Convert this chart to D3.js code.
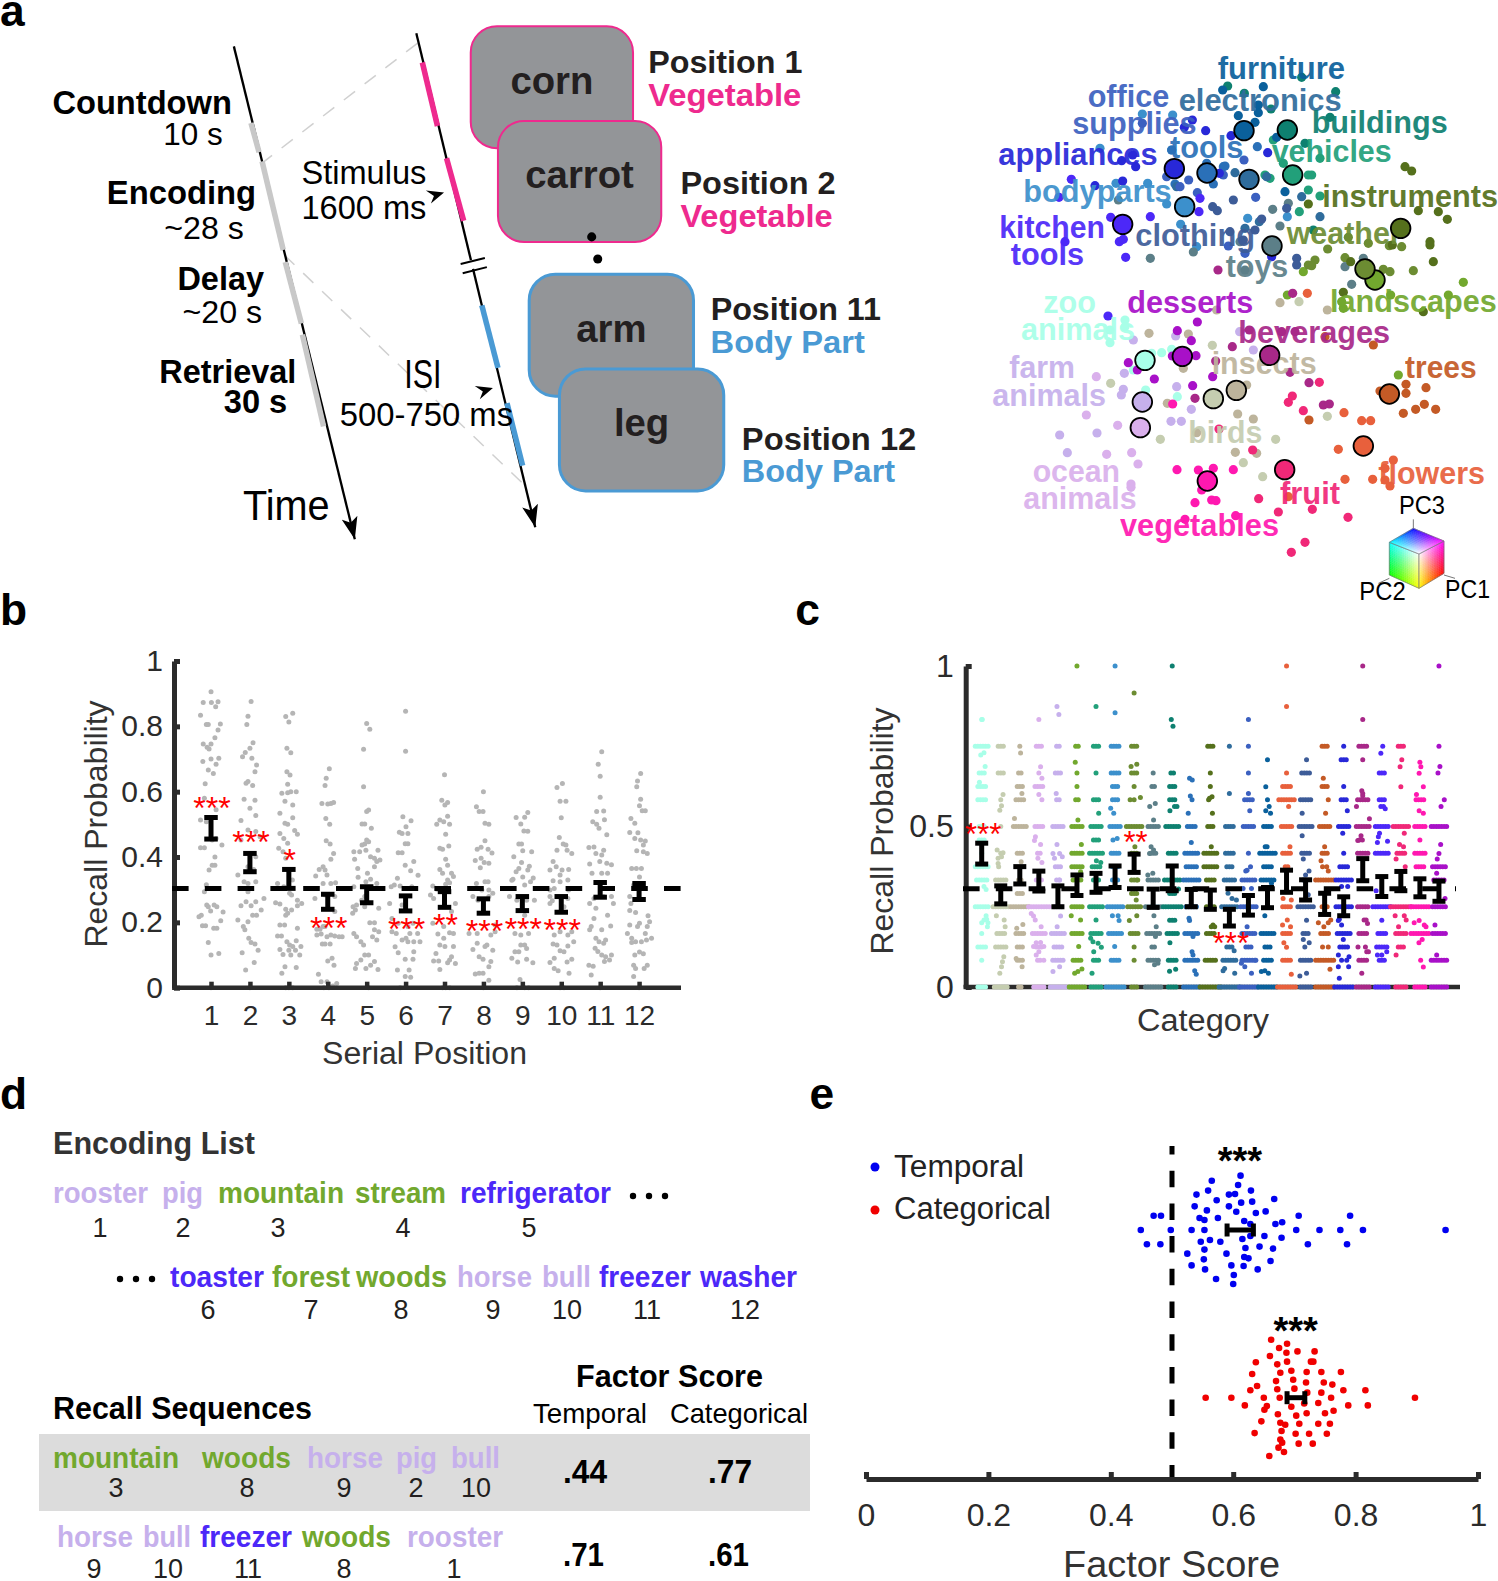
<!DOCTYPE html>
<html lang="en">
<head>
<meta charset="utf-8">
<title>Recall figure</title>
<script src="https://d3js.org/d3.v7.min.js"></script>
<style>
  html, body { margin: 0; padding: 0; background: #fff; }
  svg { display: block; font-family: "Liberation Sans", Arial, sans-serif; }
</style>
</head>
<body>
<script>
// ---- categories (panel c order, left to right)
var catNames = ["zoo animals","birds","insects","ocean animals","farm animals","landscapes","vehicles","body parts","weather","toys","buildings","tools","instruments","electronics","office supplies","furniture","flowers","clothing","trees","appliances","beverages","kitchen tools","fruit","vegetables","desserts"];
var catColors = ["#a8ffe8","#c5cdb0","#bdb49c","#dab0ec","#c6b0ec","#72a82e","#22a07a","#3c90cc","#6c8c32","#5c7f88","#0e8070","#2a70b8","#55701c","#2f6c9c","#3b60c0","#0a609c","#e8603c","#3d5c98","#c45a26","#2828d8","#a82888","#4c28f8","#f02878","#ff18b0","#a810c8"];

// ---- panel a embedding, PC scores in plot units, one list per category
var embedCentroids = [[495,961],[700,1076],[769,1051],[481,1163],[487,1086],[1185,720],[938,405],[614,500],[1155,687],[876,618],[922,270],[681,399],[1262,565],[807,418],[0,0],[792,272],[1150,1218],[0,0],[1228,1062],[583,386],[869,946],[428,553],[914,1289],[682,1323],[607,949]];
var embedDots = [
  [[435,840],[435,860],[390,870],[390,908],[545,938],[575,928],[515,940],[460,990],[497,1050],[592,1070]],
  [[957,785],[697,916],[392,1030],[1042,1129],[541,1198],[887,1198],[790,1268],[848,1310]],
  [[507,880],[625,882],[610,985],[562,1090],[773,1122],[820,1137],[650,1178],[766,1237],[830,1240],[800,1035],[710,810],[900,788],[1042,810]],
  [[349,1010],[319,1125],[413,1156],[380,1243],[455,1238],[474,1272],[453,1332],[453,1342]],
  [[460,900],[587,888],[433,1000],[430,1048],[424,1065],[590,1040],[634,1108],[573,1144],[604,1144],[239,1185],[351,1179],[262,1238],[779,875],[820,930]],
  [[970,695],[1450,727],[922,765],[1232,765],[1405,765],[1090,805],[1085,785],[1255,1005]],
  [[880,300],[985,405],[995,405],[855,405],[870,415],[985,450],[1020,468],[958,515],[910,370],[1020,355]],
  [[487,222],[578,225],[360,325],[575,330],[408,430],[503,430],[560,492],[602,553],[803,535],[922,530],[650,620]],
  [[1043,627],[1105,592],[1165,610],[1228,617],[1265,620],[1095,653],[1005,660],[985,675],[995,677],[1230,695],[1300,692],[1210,688]],
  [[511,655],[640,636],[795,690],[878,508],[900,558],[1095,680],[1115,733],[925,490],[1150,655],[415,480],[780,605]],
  [[743,138],[793,160],[965,112],[1067,155],[873,207],[1050,232],[975,310],[1000,570]],
  [[730,380],[832,320],[700,432],[735,378],[575,330],[585,432],[680,370]],
  [[1275,380],[1295,393],[1315,512],[1375,515],[1402,538],[1350,605],[1350,615],[1360,665],[1237,615],[985,492],[1112,665],[1090,757],[1330,815]],
  [[765,398],[860,410],[965,470],[1020,530],[838,545],[795,565],[590,440]],
  [[626,420],[600,440],[652,458],[730,405],[792,360],[827,472],[487,250],[560,410],[745,618],[795,640]],
  [[728,150],[850,140],[775,227],[825,247],[835,195],[835,218],[915,455],[890,292]],
  [[982,760],[1092,1118],[1145,1142],[1172,1142],[1075,1228],[1240,1260],[1215,1285],[1095,1318],[1178,1318],[1215,1320],[1230,1338],[925,1370]],
  [[760,480],[712,512],[698,500],[845,537],[825,570],[920,505],[750,575],[790,600],[950,655],[950,675]],
  [[1278,1033],[1338,1043],[1278,1060],[1200,1053],[1270,1120],[1307,1108],[1333,1093],[1367,1108],[987,1140],[1180,915],[1035,890]],
  [[677,272],[753,287],[637,240],[613,262],[863,338],[467,380],[425,362],[458,345],[345,437],[428,423],[718,400],[875,650]],
  [[714,690],[938,760],[757,920],[707,963],[930,997],[987,1028],[1030,1095],[1048,1092],[645,1075],[808,870],[905,875],[945,875]],
  [[274,418],[237,472],[392,532],[511,530],[657,515],[660,475],[418,605],[430,598],[255,605],[437,652],[384,828]],
  [[925,1087],[937,1068],[970,1112],[1018,1027],[818,1230],[717,1167],[836,1376],[895,1416],[997,1408],[1104,1432],[975,1507],[934,1537]],
  [[578,1092],[591,1289],[655,1290],[700,1285],[760,1289],[645,1388],[695,1380],[708,1382],[665,1350],[767,1427],[615,1438]],
  [[652,846],[592,872],[634,902],[648,947],[577,948],[445,968],[472,990],[523,1017],[698,1010],[638,1037]]
];
var embedLabels = [["furniture",713,1095,118,15],["office",323,568,200,14],["electronics",596,1085,212,13],["supplies",277,650,283,14],["buildings",995,1403,280,10],["tools",570,790,353,11],["vehicles",875,1235,365,6],["appliances",55,533,375,19],["bodyparts",130,575,487,7],["instruments",1027,1554,502,12],["kitchen",58,375,595,21],["tools",92,312,675,21],["clothing",466,825,617,17],["weather",920,1265,612,8],["toys",737,925,712,9],["zoo",190,348,820,0],["animals",123,465,900,0],["desserts",442,820,820,24],["landscapes",1050,1550,815,5],["beverages",775,1230,910,20],["insects",695,1010,1003,2],["farm",88,285,1015,4],["animals",37,378,1098,4],["trees",1275,1490,1015,18],["birds",625,847,1210,1],["flowers",1195,1515,1332,16],["ocean",158,420,1327,3],["animals",130,470,1407,3],["fruit",900,1080,1392,22],["vegetables",420,897,1488,23]];

// ---- panel b: serial position, each point is [offset from position, recall prob]
var serialPoints = [
  [[0,.906],[-.2,.873],[.01,.873],[.18,.875],[.12,.86],[-.27,.834],[-.12,.806],[-.07,.806],[.24,.807],[.18,.789],[.1,.765],[-.2,.746],[-.1,.736],[-.05,.731],[0,.746],[-.21,.692],[0,.7],[.2,.702],[.13,.684],[-.07,.666],[.06,.656],[-.15,.624],[-.17,.58],[.13,.545],[-.27,.513],[-.12,.508],[.13,.457],[-.27,.428],[-.17,.428],[.03,.452],[.28,.437],[.1,.4],[.03,.375],[.1,.375],[-.05,.36],[-.12,.315],[-.17,.294],[-.11,.253],[-.07,.248],[.08,.253],[.15,.248],[-.01,.235],[.31,.232],[-.25,.222],[-.31,.217],[.25,.205],[-.22,.19],[-.14,.19],[.07,.182],[.15,.182],[-.07,.138],[0,.1],[.2,.105],[0,0]],
  [[.03,.876],[-.05,.831],[-.08,.806],[.08,.75],[0,.733],[-.12,.72],[-.19,.707],[.05,.702],[.17,.682],[.13,.661],[-.05,.631],[-.1,.626],[.07,.619],[.13,.574],[-.15,.577],[0,.549],[.15,.527],[-.23,.512],[-.05,.483],[.15,.478],[.26,.462],[-.23,.452],[.15,.401],[.1,.362],[-.05,.37],[-.31,.345],[-.15,.324],[.15,.324],[-.05,.319],[-.23,.304],[-.05,.294],[.36,.273],[.15,.263],[-.1,.263],[-.23,.251],[.03,.251],[.29,.238],[.17,.222],[.07,.222],[-.31,.207],[-.05,.202],[-.17,.187],[-.13,.177],[-.03,.151],[.03,.138],[.13,.134],[-.2,.107],[.21,.115],[.11,.077],[-.11,.054],[0,0]],
  [[.1,.84],[-.08,.83],[0,.813],[-.05,.733],[.05,.719],[-.05,.661],[.03,.651],[-.03,.623],[-.18,.595],[-.03,.597],[.05,.6],[.19,.6],[-.1,.571],[.1,.559],[.1,.52],[-.23,.534],[-.1,.503],[-.03,.5],[-.23,.472],[.15,.481],[.22,.47],[-.13,.457],[-.03,.442],[-.26,.427],[-.15,.416],[-.08,.396],[.09,.33],[-.29,.319],[-.13,.309],[.22,.268],[.07,.284],[.02,.289],[-.34,.26],[-.23,.256],[.33,.258],[.22,.251],[-.08,.24],[.07,.238],[-.03,.228],[-.08,.222],[-.23,.192],[-.11,.192],[.22,.182],[-.29,.158],[-.19,.158],[.19,.144],[-.05,.141],[.02,.131],[.1,.126],[.31,.126],[-.23,.117],[0,.115],[.17,.115],[-.15,.102],[.05,.1],[.28,.1],[-.1,.064],[.19,.062],[-.18,.044],[0,0],[.1,0],[-.08,0]],
  [[.04,.67],[-.04,.641],[-.07,.619],[-.15,.564],[0,.562],[.08,.564],[.15,.567],[-.05,.518],[.05,.5],[-.04,.45],[.06,.44],[.15,.411],[.08,.393],[-.12,.37],[-.22,.362],[-.07,.36],[-.31,.342],[-.02,.345],[-.12,.319],[.08,.319],[.2,.321],[-.07,.284],[.29,.304],[-.33,.273],[.18,.279],[.18,.233],[-.12,.187],[-.28,.179],[-.2,.179],[-.07,.187],[.08,.161],[.29,.156],[.18,.158],[.37,.156],[-.28,.161],[-.02,.156],[-.14,.134],[-.07,.134],[.06,.134],[-.17,.164],[.11,.09],[0,.082],[.16,.069],[-.24,.041],[-.17,.018],[-.02,.018],[.23,.013],[.13,.005],[-.1,0],[.03,0]],
  [[0,.809],[.08,.791],[-.08,.73],[-.08,.615],[.05,.544],[0,.539],[-.12,.501],[-.05,.501],[.12,.488],[0,.452],[-.05,.44],[-.12,.437],[.05,.447],[-.33,.416],[-.18,.416],[-.02,.421],[.29,.421],[-.31,.393],[.1,.401],[.2,.396],[.34,.391],[.26,.386],[.2,.37],[-.23,.365],[-.22,.338],[.02,.35],[.1,.332],[-.02,.324],[-.33,.309],[.26,.319],[-.05,.279],[-.13,.268],[-.26,.253],[-.35,.248],[-.29,.238],[-.05,.248],[.31,.243],[-.36,.228],[.08,.199],[.2,.199],[.2,.177],[.31,.171],[.15,.156],[.26,.146],[-.33,.166],[-.26,.156],[-.15,.141],[-.08,.131],[-.05,.1],[.05,.1],[-.15,.085],[-.26,.074],[.1,.069],[.2,.08],[-.29,.059],[-.02,.059],[.29,.056],[.05,0]],
  [[0,.846],[0,.724],[-.07,.523],[.14,.511],[.01,.493],[-.16,.476],[-.09,.472],[.06,.472],[-.01,.441],[.06,.441],[-.19,.413],[-.09,.413],[.21,.386],[-.01,.375],[.13,.358],[.32,.344],[-.21,.335],[-.29,.314],[-.37,.309],[-.14,.311],[-.01,.304],[.16,.309],[-.41,.258],[-.09,.253],[-.35,.212],[-.19,.197],[-.35,.171],[-.24,.166],[.06,.187],[.19,.197],[.11,.166],[.31,.166],[-.09,.146],[.06,.141],[.21,.141],[.37,.141],[-.27,.125],[.01,.151],[-.19,.107],[.21,.11],[-.01,.087],[.19,.087],[-.21,.054],[.09,.054],[-.01,.034],[.13,.032],[-.14,0]],
  [[0,.652],[-.07,.574],[.08,.567],[.01,.559],[.08,.525],[-.12,.513],[-.2,.5],[-.02,.508],[.13,.5],[.03,.47],[-.12,.427],[-.05,.424],[.11,.434],[.03,.393],[.08,.375],[-.12,.362],[-.05,.35],[.18,.35],[.08,.33],[.23,.34],[.13,.321],[.03,.317],[-.3,.311],[-.19,.301],[-.36,.284],[-.28,.273],[.28,.258],[.18,.233],[-.3,.197],[-.02,.187],[.13,.168],[.23,.166],[-.17,.164],[-.02,.151],[-.12,.131],[.01,.126],[.23,.126],[-.22,.105],[.18,.095],[.13,.085],[-.28,.082],[-.15,.082],[.08,.076],[.28,.074],[-.12,.056],[-.05,0],[.03,0],[.13,0]],
  [[0,.6],[-.18,.554],[-.11,.539],[-.01,.539],[.04,.503],[.14,.5],[.04,.45],[-.06,.43],[-.16,.424],[.12,.424],[.22,.412],[-.06,.396],[-.21,.389],[.02,.383],[.14,.381],[-.08,.367],[.04,.324],[.12,.324],[-.18,.319],[-.04,.299],[.14,.299],[-.27,.279],[-.14,.268],[.14,.279],[.24,.289],[.3,.192],[.19,.161],[-.37,.166],[-.16,.166],[.3,.171],[.09,.131],[-.16,.136],[.04,.126],[.24,.115],[-.27,.117],[-.11,.095],[-.01,.087],[.19,.08],[.14,.064],[-.21,.042],[-.11,.044],[.14,.023],[0,0],[-.01,.044]],
  [[.14,.536],[.06,.522],[-.16,.521],[-.04,.501],[.04,.48],[.14,.479],[-.09,.44],[-.02,.44],[.01,.419],[.24,.416],[-.22,.401],[-.02,.383],[.18,.372],[.14,.36],[-.09,.365],[-.16,.355],[-.24,.332],[.01,.339],[.28,.336],[-.27,.329],[.21,.324],[.06,.314],[-.33,.279],[-.14,.268],[.11,.268],[.31,.268],[.06,.222],[-.19,.166],[-.04,.161],[.16,.166],[-.04,.131],[.06,.131],[-.19,.11],[.11,.12],[-.09,.11],[-.27,.09],[-.12,.079],[.11,.087],[.27,.076],[-.06,.025],[-.14,0],[.06,0],[.16,0]],
  [[.03,.625],[-.11,.613],[-.03,.571],[.12,.571],[0,.52],[-.05,.46],[.05,.44],[.12,.437],[-.11,.421],[.15,.421],[.27,.411],[-.21,.386],[-.13,.37],[-.29,.36],[.02,.36],[.19,.362],[-.03,.345],[.17,.33],[-.21,.327],[-.03,.324],[-.29,.299],[-.18,.304],[.19,.299],[-.29,.279],[-.23,.266],[-.29,.258],[.17,.273],[.07,.248],[.27,.171],[.17,.161],[-.03,.171],[-.18,.161],[.32,.141],[-.21,.134],[-.11,.131],[.17,.128],[-.03,.113],[.07,.11],[-.18,.09],[.27,.087],[-.29,.077],[.15,.079],[-.18,.059],[-.08,.052],[.2,.044],[.07,0],[-.03,0]],
  [[.04,.722],[-.05,.684],[0,.647],[0,.583],[-.09,.539],[.09,.541],[-.19,.508],[-.09,.5],[.11,.514],[-.03,.488],[.17,.468],[-.29,.429],[-.16,.431],[.09,.421],[-.11,.411],[.04,.406],[-.01,.386],[-.27,.379],[.17,.381],[.29,.376],[-.21,.35],[.04,.35],[.19,.35],[.29,.279],[.09,.279],[-.16,.273],[-.27,.258],[.34,.258],[-.11,.243],[.19,.222],[-.16,.212],[.27,.189],[-.23,.187],[-.27,.177],[.04,.177],[-.11,.151],[.14,.146],[.09,.136],[-.03,.141],[-.13,.121],[-.06,.111],[.04,.1],[.14,.095],[.29,.1],[.11,.08],[.24,.085],[-.29,.069],[-.18,.066],[-.23,.039],[0,0]],
  [[.04,.656],[-.04,.633],[-.06,.615],[.04,.577],[.01,.557],[.08,.542],[.16,.542],[-.21,.518],[-.11,.503],[-.24,.475],[-.03,.474],[-.11,.457],[.04,.452],[.16,.449],[.11,.437],[-.06,.419],[.11,.416],[.21,.411],[-.19,.365],[-.07,.365],[.06,.365],[.01,.339],[-.14,.314],[-.24,.279],[-.21,.258],[-.24,.236],[-.09,.23],[.23,.22],[.01,.197],[.27,.202],[-.24,.192],[-.04,.187],[.21,.187],[-.3,.166],[.16,.166],[-.19,.151],[-.09,.141],[.06,.141],[-.19,.138],[.19,.146],[.32,.151],[.01,.109],[.11,.104],[-.11,.1],[-.14,.069],[.21,.069],[-.09,.059],[.13,.059],[-.14,.034],[0,0]]
];
var serialLow  = [.455,.355,.304,.24,.26,.235,.246,.228,.236,.231,.277,.27];
var serialHigh = [.521,.411,.362,.286,.309,.281,.294,.272,.279,.279,.322,.319];
var serialStars = [[1,"***",.567],[2,"***",.463],[3,"*",.41],[4,"***",.202],[6,"***",.197],[7,"**",.209],[8,"***",.192],[9,"***",.197],[10,"***",.195]];
var chanceLevel = .304;

// ---- panel c: rows are [level in 24ths, how many subjects]; off grid points are [offset, prob]
var catRows = [
  [[20,1],[18,6],[16,3],[15,4],[14,4],[12,3],[11,3],[10,1],[9,6],[8,5],[6,6],[4,1],[3,4],[2,1],[0,4]],
  [[18,3],[16,3],[12,1],[10,1],[8,5],[6,7],[4,4],[3,5],[0,6]],
  [[18,1],[16,2],[15,3],[14,4],[12,6],[10,3],[8,2],[7,3],[6,8],[4,4],[3,3],[2,3],[0,2]],
  [[18,3],[16,1],[15,4],[12,4],[10,2],[8,3],[6,9],[4,6],[3,3],[2,2],[0,5]],
  [[18,2],[16,3],[14,2],[12,5],[9,3],[8,2],[6,4],[4,6],[3,4],[2,5],[0,7]],
  [[24,1],[18,2],[16,1],[15,1],[14,2],[12,5],[10,5],[9,5],[8,4],[6,5],[4,5],[2,4],[0,7]],
  [[18,3],[16,1],[14,3],[12,5],[11,3],[10,6],[9,4],[8,3],[6,6],[4,5],[2,3],[0,5]],
  [[24,1],[18,4],[16,4],[15,3],[14,3],[12,5],[10,4],[9,3],[8,3],[6,7],[4,6],[2,4],[0,8]],
  [[18,3],[16,3],[15,1],[14,1],[12,7],[10,3],[8,3],[7,3],[6,6],[4,4],[3,1],[2,1],[0,3]],
  [[16,1],[15,2],[12,5],[10,3],[8,5],[6,7],[4,6],[3,2],[2,5],[0,7]],
  [[24,1],[16,2],[15,3],[14,3],[12,6],[10,4],[8,7],[7,3],[6,8],[5,3],[4,5],[2,4],[0,4]],
  [[12,4],[10,6],[9,5],[8,7],[6,5],[4,6],[2,6],[0,7]],
  [[18,3],[16,1],[15,1],[12,3],[10,6],[9,6],[8,4],[6,4],[4,4],[2,5],[0,9]],
  [[18,1],[12,4],[10,4],[9,3],[8,5],[6,7],[3,3],[2,6],[0,9]],
  [[18,1],[16,1],[14,4],[12,5],[10,1],[8,6],[6,7],[4,6],[3,3],[2,6],[0,8]],
  [[14,1],[12,4],[10,7],[9,4],[8,6],[4,6],[3,3],[2,4],[0,8]],
  [[24,1],[16,1],[15,4],[14,7],[12,5],[10,4],[9,2],[6,4],[4,4],[2,4],[0,8]],
  [[16,4],[14,5],[12,6],[10,4],[6,7],[4,3],[2,5],[0,5]],
  [[18,3],[15,3],[12,5],[10,3],[8,8],[6,3],[4,4],[2,8],[0,8]],
  [[18,1],[17,3],[15,1],[14,3],[12,5],[10,1],[9,4],[8,7],[6,7],[4,6],[3,4],[0,8]],
  [[24,1],[18,4],[14,5],[12,6],[10,5],[6,5],[4,4],[2,4],[0,6]],
  [[16,3],[14,3],[12,6],[10,6],[6,8],[4,4],[3,5],[2,3],[0,6]],
  [[18,3],[12,7],[10,4],[6,9],[4,5],[3,3],[0,5]],
  [[14,4],[12,5],[10,5],[9,4],[6,8],[4,8],[0,5]],
  [[24,1],[18,1],[12,7],[9,6],[8,5],[6,6],[4,6],[2,7],[0,7]]
];
var catExtras = [
  [[.03,.833],[-.05,.723],[.12,.73],[.18,.687],[-.12,.638],[.12,.313],[.23,.304],[.23,.222],[.12,.209],[.26,.211],[0,.2],[.33,.2],[.3,.188]],
  [[.12,.6],[0,.583],[.04,.565],[-.05,.551],[-.19,.427],[-.14,.401],[.04,.406],[-.14,.385],[.12,.418],[-.23,.222],[.18,.209],[.23,.188],[.16,.094],[.09,.079],[.04,.063],[-.05,.043],[-.11,.375]],
  [[.04,.729],[.11,.603],[-.28,.525],[.07,.39],[.16,.195],[-.16,.183],[-.19,.089],[.12,.063]],
  [[0,.833],[.09,.686],[.16,.65],[0,.6],[.16,.583],[-.18,.468],[-.23,.456],[.09,.444],[-.05,.401],[.16,.388],[-.4,.229],[-.28,.221],[-.19,.209],[.12,.188],[.09,.139],[-.14,.138],[-.28,.126],[.26,.126],[-.14,.1],[.26,.083],[0,.11]],
  [[-.05,.874],[.05,.849],[-.09,.603],[-.05,.444],[-.26,.416],[.09,.416],[.23,.406],[-.18,.401],[.09,.333],[.14,.221],[-.04,.188],[.09,.063],[-.26,.048]],
  [[-.09,.7],[.05,.52],[.23,.444],[.19,.359],[-.3,.222],[.19,.209],[.09,.126],[-.12,.043],[.05,.048],[.26,.056]],
  [[0,.874],[.14,.541],[.02,.393],[.25,.388],[0,.209],[-.28,.152],[-.16,.141],[.11,.136],[.28,.124],[-.12,.11],[-.21,.043]],
  [[0,.854],[-.23,.557],[-.07,.541],[-.11,.458],[.11,.463],[-.14,.222],[.16,.222],[.21,.207],[-.02,.126]],
  [[0,.916],[.14,.694],[-.16,.687],[.33,.59],[-.21,.583],[.04,.437],[.11,.271],[.14,.222],[-.25,.207],[.19,.333]],
  [[-.18,.562],[.11,.572],[.02,.52],[-.11,.437],[.02,.427],[-.19,.416],[-.02,.354],[-.28,.349],[.04,.222],[.16,.188],[.12,.157],[.25,.074],[.07,.069]],
  [[-.05,.833],[.04,.812],[.25,.562],[.12,.562],[-.12,.549],[.33,.305],[-.12,.138],[-.14,.049],[.18,.055]],
  [[-.09,.65],[.05,.645],[-.05,.595],[.04,.583],[-.16,.541],[0,.45],[-.12,.214],[-.09,.207],[.09,.157],[.04,.11],[.09,.1],[.18,.051],[.26,.04]],
  [[.09,.593],[-.04,.588],[-.09,.583],[.11,.541],[.05,.437],[.14,.193],[.05,.188],[.23,.188]],
  [[0,.603],[-.07,.292],[.14,.276],[.37,.271],[.25,.113],[-.25,.058],[-.33,.051],[.28,.043]],
  [[0,.833],[0,.603],[.07,.549],[.11,.375],[-.07,.364],[-.14,.361],[-.28,.307],[.16,.307],[-.07,.188],[.39,.083],[-.37,.074],[-.19,.063],[.16,.043]],
  [[0,.708],[-.09,.624],[-.09,.549],[.09,.562],[.16,.541],[-.02,.437],[-.12,.437],[.21,.323],[-.14,.222],[-.14,.051],[-.32,.048],[.05,.043]],
  [[0,.874],[.11,.562],[.18,.437],[-.18,.276],[.25,.271],[.04,.209],[-.21,.193],[.21,.188],[-.14,.138],[0,.124],[.25,.04]],
  [[.05,.708],[-.18,.541],[-.18,.471],[-.12,.399],[.18,.361],[0,.349],[-.12,.333],[.14,.287],[.05,.208],[-.12,.148],[.19,.138],[-.04,.125],[-.3,.034],[.05,.043]],
  [[-.07,.65],[.19,.583],[.05,.541],[0,.437],[-.19,.393],[-.11,.375],[.11,.375],[.19,.361],[-.33,.2],[-.04,.188],[.19,.2],[.32,.209],[.19,.125],[-.11,.125],[.28,.055]],
  [[.19,.549],[-.05,.479],[-.11,.313],[.21,.313],[-.23,.211],[-.11,.193],[-.28,.207],[-.02,.148],[-.28,.1],[.28,.094],[-.11,.083],[.16,.083],[-.28,.063],[.26,.063],[-.23,.027]],
  [[0,.833],[0,.708],[-.05,.611],[0,.603],[0,.596],[-.33,.562],[.35,.524],[-.09,.471],[-.18,.458],[-.02,.458],[-.26,.456],[.07,.209],[.18,.209],[.25,.198],[-.25,.125],[.14,.125],[.21,.11],[.3,.11],[-.05,.043]],
  [[.05,.75],[-.05,.728],[-.05,.562],[.09,.562],[.18,.555],[-.12,.479],[-.18,.468],[-.23,.45],[.3,.454],[-.3,.3],[0,.208],[.26,.11],[-.23,.1],[0,.1]],
  [[.05,.708],[-.04,.686],[0,.624],[.18,.479],[-.07,.444],[.14,.437],[-.25,.399],[.23,.375],[-.3,.222],[.18,.222],[.28,.209],[-.12,.188],[-.25,.1]],
  [[0,.7],[.05,.686],[-.04,.666],[.18,.624],[-.18,.6],[-.04,.549],[.18,.541],[0,.458],[-.04,.207],[-.3,.2],[.23,.193],[.32,.188],[.12,.148],[-.05,.138],[.04,.083],[.18,.062]],
  [[.05,.687],[-.05,.667],[.28,.583],[.11,.562],[.09,.444],[0,.416],[-.09,.399],[-.12,.354],[.32,.276],[-.21,.193],[-.12,.1]]
];
var catLow  = [.383,.259,.321,.299,.25,.285,.295,.31,.357,.248,.3,.25,.242,.19,.224,.247,.295,.271,.226,.222,.331,.282,.3,.281,.267];
var catHigh = [.448,.315,.375,.361,.315,.349,.354,.377,.414,.305,.377,.304,.302,.242,.285,.31,.364,.334,.292,.281,.4,.344,.36,.337,.33];
var catStars = [[1,"***",.49],[9,"**",.463],[14,"***",.148]];
var catChance = .306;

// ---- panel e: [factor score, spread within the row]
var temporalScores = [[.612,.324],[.565,.294],[.608,.268],[.559,.235],[.629,.235],[.54,.211],[.593,.211],[.603,.215],[.667,.185],[.573,.177],[.631,.169],[.613,.163],[.537,.141],[.593,.141],[.557,.117],[.605,.109],[.653,.111],[.637,.101],[.47,.085],[.482,.085],[.707,.085],[.791,.085],[.545,.072],[.553,.06],[.575,.072],[.618,.054],[.628,.036],[.669,.036],[.68,.046],[.449,0],[.498,0],[.532,0],[.553,0],[.703,0],[.741,0],[.775,0],[.812,0],[.947,0],[.628,-.036],[.651,-.036],[.679,-.046],[.615,-.054],[.562,-.06],[.547,-.07],[.579,-.07],[.459,-.085],[.481,-.085],[.722,-.085],[.786,-.085],[.62,-.107],[.643,-.099],[.665,-.111],[.553,-.117],[.525,-.141],[.589,-.141],[.618,-.161],[.625,-.169],[.552,-.175],[.661,-.185],[.532,-.211],[.597,-.211],[.617,-.215],[.554,-.235],[.64,-.235],[.601,-.268],[.572,-.292],[.6,-.322]];
var categoricalScores = [[.662,.346],[.688,.322],[.675,.296],[.687,.268],[.705,.276],[.733,.276],[.66,.249],[.637,.211],[.672,.199],[.688,.215],[.727,.215],[.731,.215],[.631,.141],[.677,.149],[.695,.161],[.72,.153],[.744,.153],[.776,.153],[.67,.099],[.698,.107],[.719,.091],[.748,.091],[.639,.07],[.762,.078],[.628,.044],[.672,.05],[.7,.054],[.721,.03],[.744,.03],[.78,.044],[.816,.044],[.555,0],[.597,0],[.65,0],[.676,0],[.76,0],[.897,0],[.739,-.032],[.619,-.046],[.655,-.05],[.651,-.072],[.695,-.054],[.716,-.034],[.788,-.046],[.82,-.046],[.764,-.078],[.72,-.093],[.75,-.093],[.673,-.099],[.703,-.107],[.646,-.141],[.677,-.149],[.685,-.161],[.708,-.155],[.739,-.155],[.758,-.155],[.635,-.211],[.679,-.199],[.702,-.215],[.724,-.215],[.753,-.215],[.677,-.249],[.68,-.268],[.707,-.274],[.73,-.274],[.674,-.298],[.683,-.324],[.659,-.348]];
var meanRanges = [[.59,.633],[.688,.717]];
var factorTicks = [0,.2,.4,.6,.8,1];

// ---- panel d word lists
var lavender = "#c6b0ec", leafGreen = "#72a82e", violet = "#4c28f8";
var encodingRow1 = [["rooster",lavender,53,148],["pig",lavender,162,203],["mountain",leafGreen,218,344],["stream",leafGreen,355,446],["refrigerator",violet,460,611]];
var encodingNums1 = [["1",100],["2",183],["3",278],["4",403],["5",529]];
var encodingRow2 = [["toaster",violet,170,264],["forest",leafGreen,272,350],["woods",leafGreen,356,447],["horse",lavender,457,532],["bull",lavender,542,591],["freezer",violet,599,691],["washer",violet,700,797]];
var encodingNums2 = [["6",208],["7",311],["8",401],["9",493],["10",567],["11",647],["12",745]];
var recallA = [["mountain",leafGreen,53,179],["woods",leafGreen,202,291],["horse",lavender,307,383],["pig",lavender,396,437],["bull",lavender,451,500]];
var recallNumsA = [["3",116],["8",247],["9",344],["2",416],["10",476]];
var recallB = [["horse",lavender,57,133],["bull",lavender,143,191],["freezer",violet,200,292],["woods",leafGreen,302,391],["rooster",lavender,407,503]];
var recallNumsB = [["9",94],["10",168],["11",248],["8",344],["1",454]];

var svg = d3.select("body").append("svg").attr("width", 1498).attr("height", 1581);

// text helper: x1 stretches the string to the measured width
function put(g, str, x, y, o) {
  o = o || {};
  var t = g.append("text").attr("x", x).attr("y", y).text(str)
    .attr("font-size", o.size || 30)
    .attr("font-weight", o.bold ? "bold" : "normal")
    .attr("fill", o.fill || "#231f20")
    .attr("text-anchor", o.anchor || "start");
  if (o.x1) t.attr("textLength", o.x1 - x).attr("lengthAdjust", "spacingAndGlyphs");
  if (o.opacity) t.attr("opacity", o.opacity);
  return t;
}

// ---------------- panel a, timeline
var a = svg.append("g").attr("transform", "scale(1.008)");
a.append("defs").append("marker").attr("id", "head").attr("markerUnits", "userSpaceOnUse")
  .attr("markerWidth", 24).attr("markerHeight", 16).attr("refX", 22).attr("refY", 8).attr("orient", "auto")
  .append("path").attr("d", "M22,8 L0,0 L5,8 L0,16 Z").attr("fill", "#000");

function seg(x0, y0, x1, y1, color, w, extra) {
  var l = a.append("line").attr("x1", x0).attr("y1", y0).attr("x2", x1).attr("y2", y1)
    .attr("stroke", color).attr("stroke-width", w);
  if (extra) l.attr("marker-end", "url(#head)");
  return l;
}
seg(414,43,261,161,"#d0d0d0",1.5).attr("stroke-dasharray","14 12");
seg(282,253,519,480,"#d0d0d0",1.5).attr("stroke-dasharray","14 12");
seg(232,46,352,535,"#000",2.3,true);
seg(413,33,531,523,"#000",2.3,true);
[[249,122,257,151],[260,160,281,248],[283,260,299,321],[300,332,321,423]].forEach(function(s){ seg(s[0],s[1],s[2],s[3],"#c8c8c8",5.5); });
[[419,62,434,125],[443,157,460,219]].forEach(function(s){ seg(s[0],s[1],s[2],s[3],"#ee2a8e",5.5); });
[[478,303,494,365],[503,400,518.5,462]].forEach(function(s){ seg(s[0],s[1],s[2],s[3],"#4a9ad4",5.5); });
a.append("rect").attr("x",454).attr("y",258).attr("width",26).attr("height",9).attr("fill","#fff").attr("transform","rotate(-14 468 264)");
seg(457,262,481,256,"#000",2);
seg(459,271,483,265,"#000",2);

[[440.5,191],[489,385]].forEach(function(p){
  a.append("path").attr("transform","translate("+p[0]+","+p[1]+")")
    .attr("d","M0,0 L-18,-2 L-10,3.5 L-13,11 Z").attr("fill","#000");
});

var cards = [["corn",467,26,161,121,"#ee2a8e",2],["carrot",494,120,162,120,"#ee2a8e",2],["arm",525,272,163,121,"#4a9ad4",3],["leg",555,366,163,121,"#4a9ad4",3]];
cards.forEach(function(c){
  a.append("rect").attr("x",c[1]).attr("y",c[2]).attr("width",c[3]).attr("height",c[4]).attr("rx",26)
    .attr("fill","#939598").attr("stroke",c[5]).attr("stroke-width",c[6]);
  put(a, c[0], c[1]+c[3]/2, c[2]+67, {size:38,bold:true,anchor:"middle"});
});
[[587,235],[593,257]].forEach(function(p){ a.append("circle").attr("cx",p[0]).attr("cy",p[1]).attr("r",4.5).attr("fill","#000"); });

var aLabels = [
  ["Countdown",52,230,113,33,true,"#000"],["10 s",162,221,144,32,false,"#000"],
  ["Encoding",106,254,202,33,true,"#000"],["~28 s",163,242,237,32,false,"#000"],
  ["Delay",176,262,288,33,true,"#000"],["~20 s",181,260,320,32,false,"#000"],
  ["Retrieval",158,294,380,33,true,"#000"],["30 s",222,285,410,33,true,"#000"],
  ["Time",241,327,516,42,false,"#000"],["Stimulus",299,423,183,33,false,"#000"],
  ["1600 ms",299,423,217,33,false,"#000"],["ISI",401,438,385,40,false,"#000"],
  ["500-750 ms",337,509,423,33,false,"#000"],
  ["Position 1",643,796,72,32,true,"#231f20"],["Vegetable",643,795,105,32,true,"#ee2a8e"],
  ["Position 2",675,829,192,32,true,"#231f20"],["Vegetable",675,826,225,32,true,"#ee2a8e"],
  ["Position 11",705,874,317,32,true,"#231f20"],["Body Part",705,858,350,32,true,"#4a9ad4"],
  ["Position 12",736,909,446,32,true,"#231f20"],["Body Part",736,888,478,32,true,"#4a9ad4"]
];
aLabels.forEach(function(l){ put(a,l[0],l[1],l[3],{x1:l[2],size:l[4],bold:l[5],fill:l[6]}); });

// panel letters
[["a",0,26],["b",0,620],["c",789,620],["d",0,1100],["e",803,1100]].forEach(function(l){
  put(a,l[0],l[1],l[2],{size:44,bold:true,fill:"#000"});
});

// ---------------- panel a, embedding
var xPC = d3.scaleLinear().domain([0,1554]).range([980,1498]);
var yPC = d3.scaleLinear().domain([0,1710]).range([40,610]);
var emb = svg.append("g");
embedDots.forEach(function(pts,i){
  emb.selectAll(null).data(pts).enter().append("circle")
    .attr("cx",function(d){return xPC(d[0]);}).attr("cy",function(d){return yPC(d[1]);})
    .attr("r",4.6).attr("fill",catColors[i]);
});
embedLabels.forEach(function(l){
  put(emb,l[0],xPC(l[1]),yPC(l[3]),{x1:xPC(l[2]),size:32,bold:true,fill:catColors[l[4]],opacity:.92});
});
embedCentroids.forEach(function(c,i){
  if (!c[0]) return;
  emb.append("circle").attr("cx",xPC(c[0])).attr("cy",yPC(c[1])).attr("r",9.8)
    .attr("fill",catColors[i]).attr("stroke","#000").attr("stroke-width",1.8);
});

// colour cube, three faces of the rgb cube
var P = function(zx,zy){ return [980+zx/3,280+zy/3]; };
var F=P(1317,822), L=P(1228,787), R=P(1392,783), B=P(1300,745), LB=P(1228,885), RB=P(1392,880), FB=P(1317,925);
var faces = [
  [L,F,FB,LB,[0,1,1],[1,1,1],[1,1,0],[0,1,0]],
  [F,R,RB,FB,[1,1,1],[1,0,1],[1,0,0],[1,1,0]],
  [B,R,F,L,[0,0,1],[1,0,1],[1,1,1],[0,1,1]]
];
var cube = svg.append("g");
faces.forEach(function(f){
  var n = 14;
  function bil(a,b,c,d,u,v){ return a*(1-u)*(1-v)+b*u*(1-v)+c*u*v+d*(1-u)*v; }
  for (var i=0;i<n;i++) for (var j=0;j<n;j++) {
    var pt = [[i,j],[i+1,j],[i+1,j+1],[i,j+1]].map(function(q){
      var u=q[0]/n, v=q[1]/n;
      return [bil(f[0][0],f[1][0],f[2][0],f[3][0],u,v), bil(f[0][1],f[1][1],f[2][1],f[3][1],u,v)];
    });
    var u=(i+.5)/n, v=(j+.5)/n;
    var col=d3.rgb(255*bil(f[4][0],f[5][0],f[6][0],f[7][0],u,v),255*bil(f[4][1],f[5][1],f[6][1],f[7][1],u,v),255*bil(f[4][2],f[5][2],f[6][2],f[7][2],u,v));
    cube.append("polygon").attr("points",pt.join(" ")).attr("fill",col).attr("stroke",col).attr("stroke-width",.4);
  }
  cube.append("polygon").attr("points",[f[0],f[1],f[2],f[3]].join(" ")).attr("fill","none").attr("stroke","#777").attr("stroke-width",.7);
});
[[P(1300,718),B],[P(1228,895),P(1195,910)],[P(1392,885),P(1425,895)]].forEach(function(s){
  cube.append("line").attr("x1",s[0][0]).attr("y1",s[0][1]).attr("x2",s[1][0]).attr("y2",s[1][1]).attr("stroke","#777").attr("stroke-width",1);
});
put(cube,"PC3",xPC(1257),280+703/3,{x1:xPC(1395),size:25,fill:"#000"});
put(cube,"PC2",xPC(1138),280+960/3,{x1:xPC(1277),size:25,fill:"#000"});
put(cube,"PC1",xPC(1395),280+955/3,{x1:xPC(1530),size:25,fill:"#000"});

// shared axis styling
var tickFmt = d3.format("~g");
function styleAxis(g, w, fs) {
  g.attr("color","#2b2b2b").attr("font-family","inherit").attr("font-size",fs);
  g.select(".domain").attr("stroke-width",w);
  g.selectAll(".tick line").attr("stroke-width",w);
}
function errorBars(g, x, y, lows, highs, capW, lw) {
  lows.forEach(function(lo,i){
    var cx = x(i+1), y0=y(lo), y1=y(highs[i]);
    g.append("line").attr("x1",cx).attr("x2",cx).attr("y1",y0).attr("y2",y1).attr("stroke","#000").attr("stroke-width",lw);
    [y0,y1].forEach(function(yy){
      g.append("line").attr("x1",cx-capW/2).attr("x2",cx+capW/2).attr("y1",yy).attr("y2",yy).attr("stroke","#000").attr("stroke-width",lw);
    });
  });
}

// ---------------- panel b
var xB = d3.scaleLinear().domain([0,13]).range([172.1,678]);
var yB = d3.scaleLinear().domain([0,1]).range([987.7,661]);
var b = svg.append("g");
serialPoints.forEach(function(pts,i){
  b.selectAll(null).data(pts).enter().append("circle")
    .attr("cx",function(d){return xB(i+1+d[0]);}).attr("cy",function(d){return yB(d[1]);})
    .attr("r",2.5).attr("fill","#b5b5b5");
});
var byAxis = b.append("g").attr("transform","translate(174,0)")
  .call(d3.axisLeft(yB).tickValues([0,.2,.4,.6,.8,1]).tickSize(-6).tickSizeOuter(0).tickPadding(11).tickFormat(tickFmt));
styleAxis(byAxis,5,30);
var bxAxis = b.append("g").attr("transform","translate(0,987.7)")
  .call(d3.axisBottom(xB).tickValues(d3.range(1,13)).tickSize(-6).tickSizeOuter(0).tickPadding(17).tickFormat(d3.format("d")));
styleAxis(bxAxis,4.5,28);
bxAxis.select(".domain").attr("d","M172.1,0H681");
b.append("line").attr("x1",172).attr("x2",687).attr("y1",yB(chanceLevel)).attr("y2",yB(chanceLevel))
  .attr("stroke","#000").attr("stroke-width",5).attr("stroke-dasharray","16.6 16.2");
errorBars(b,xB,yB,serialLow,serialHigh,13.5,5);
serialStars.forEach(function(s){
  put(b,s[1],xB(s[0])+1,yB(s[2])+17,{size:32,fill:"#f00",anchor:"middle"});
});
put(b,"Recall Probability",0,0,{size:32,anchor:"middle",fill:"#333"}).attr("transform","translate(107,824) rotate(-90)");
put(b,"Serial Position",322,1064,{x1:527,size:31,fill:"#333"});

// ---------------- panel c
var xC = d3.scaleLinear().domain([0,26]).range([962.65,1458]);
var yC = d3.scaleLinear().domain([0,1]).range([987,666]);
var c = svg.append("g");
var cyAxis = c.append("g").attr("transform","translate(965.7,0)")
  .call(d3.axisLeft(yC).tickValues([0,.5,1]).tickSize(-6).tickSizeOuter(0).tickPadding(12).tickFormat(tickFmt));
styleAxis(cyAxis,5,32);
var cxAxis = c.append("g").attr("transform","translate(0,987)").call(d3.axisBottom(xC).tickValues([]).tickSize(0));
styleAxis(cxAxis,4.5,30);
cxAxis.select(".domain").attr("d","M963.5,0H1460");
catRows.forEach(function(rows,i){
  var pts = [];
  rows.forEach(function(r){
    d3.range(r[1]).forEach(function(k){
      pts.push([(k-(r[1]-1)/2)*.135, r[0]/24]);
    });
  });
  pts = pts.concat(catExtras[i]);
  c.selectAll(null).data(pts).enter().append("circle")
    .attr("cx",function(d){return xC(i+1+d[0]);}).attr("cy",function(d){return yC(d[1]);})
    .attr("r",2.5).attr("fill",catColors[i]);
});
c.append("line").attr("x1",963).attr("x2",1456).attr("y1",yC(catChance)).attr("y2",yC(catChance))
  .attr("stroke","#000").attr("stroke-width",5).attr("stroke-dasharray","16.6 16.2");
errorBars(c,xC,yC,catLow,catHigh,13,5);
catStars.forEach(function(s){
  put(c,s[1],xC(s[0])+1.5,yC(s[2])+15,{size:31,fill:"#f00",anchor:"middle"});
});
put(c,"Recall Probability",0,0,{size:32,anchor:"middle",fill:"#333"}).attr("transform","translate(893,831) rotate(-90)");
put(c,"Category",1137,1031,{x1:1269,size:31,fill:"#333"});

// ---------------- panel d
var d = svg.append("g");
function words(list, y, size) {
  list.forEach(function(w){ put(d,w[0],w[2],y,{x1:w[3],size:size||29,bold:true,fill:w[1]}); });
}
function nums(list, y) {
  list.forEach(function(n){ put(d,n[0],n[1],y,{size:27,anchor:"middle",fill:"#231f20"}); });
}
function threeDots(x, y) {
  [0,16,32].forEach(function(o){ d.append("circle").attr("cx",x+o).attr("cy",y).attr("r",3.2).attr("fill","#000"); });
}
put(d,"Encoding List",53,1154,{x1:255,size:32,bold:true,fill:"#333"});
words(encodingRow1,1203);
threeDots(633,1196);
nums(encodingNums1,1237);
threeDots(120,1279);
words(encodingRow2,1287);
nums(encodingNums2,1319);
put(d,"Factor Score",576,1387,{x1:763,size:32,bold:true,fill:"#000"});
put(d,"Recall Sequences",53,1419,{x1:312,size:32,bold:true,fill:"#000"});
put(d,"Temporal",533,1423,{x1:647,size:28,fill:"#000"});
put(d,"Categorical",670,1423,{x1:808,size:28,fill:"#000"});
d.append("rect").attr("x",39).attr("y",1434).attr("width",771).attr("height",77).attr("fill","#dcdcdc");
words(recallA,1468);
nums(recallNumsA,1497);
put(d,".44",563,1483,{x1:607,size:34,bold:true,fill:"#000"});
put(d,".77",708,1483,{x1:752,size:34,bold:true,fill:"#000"});
words(recallB,1547);
nums(recallNumsB,1578);
put(d,".71",563,1566,{x1:604,size:34,bold:true,fill:"#000"});
put(d,".61",708,1566,{x1:749,size:34,bold:true,fill:"#000"});

// ---------------- panel e
var xE = d3.scaleLinear().domain([0,1]).range([866,1478]);
var yE = d3.scaleLinear().domain([0,1]).range([1397.7,1230]);
var e = svg.append("g");
e.append("line").attr("x1",xE(.5)).attr("x2",xE(.5)).attr("y1",1146).attr("y2",1479)
  .attr("stroke","#000").attr("stroke-width",5).attr("stroke-dasharray","16.5 16.2").attr("stroke-dashoffset",8);
var exAxis = e.append("g").attr("transform","translate(0,1479)")
  .call(d3.axisBottom(xE).tickValues(factorTicks).tickSize(-7).tickSizeOuter(0).tickPadding(24).tickFormat(tickFmt));
styleAxis(exAxis,5,32);
[[temporalScores,1,"#0000f0"],[categoricalScores,0,"#f00000"]].forEach(function(s){
  e.selectAll(null).data(s[0]).enter().append("circle")
    .attr("cx",function(p){return xE(p[0]);}).attr("cy",function(p){return yE(s[1]+p[1]);})
    .attr("r",3.3).attr("fill",s[2]);
});
meanRanges.forEach(function(m,i){
  var row = yE(1-i);
  e.append("line").attr("x1",xE(m[0])).attr("x2",xE(m[1])).attr("y1",row).attr("y2",row).attr("stroke","#000").attr("stroke-width",5);
  m.forEach(function(v){
    e.append("line").attr("x1",xE(v)).attr("x2",xE(v)).attr("y1",row-6.5).attr("y2",row+6.5).attr("stroke","#000").attr("stroke-width",5);
  });
});
put(e,"***",xE(.611),1174,{size:38,bold:true,fill:"#000",anchor:"middle"});
put(e,"***",xE(.702),1344,{size:38,bold:true,fill:"#000",anchor:"middle"});
e.append("circle").attr("cx",875).attr("cy",1167).attr("r",4.5).attr("fill","#0000f0");
e.append("circle").attr("cx",875).attr("cy",1210).attr("r",4.5).attr("fill","#f00000");
put(e,"Temporal",894,1177,{x1:1024,size:31,fill:"#222"});
put(e,"Categorical",894,1219,{x1:1051,size:31,fill:"#222"});
put(e,"Factor Score",1063,1577,{x1:1280,size:36,fill:"#333"});
</script>
</body>
</html>
